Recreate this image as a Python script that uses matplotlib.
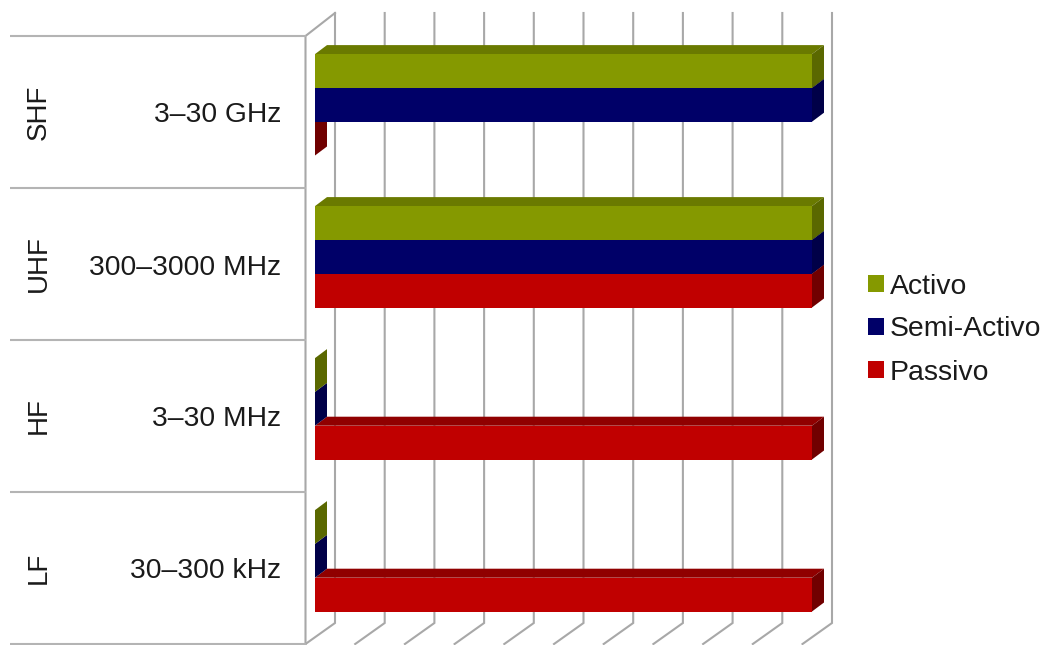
import matplotlib.pyplot as plt
from matplotlib.patches import Patch

plt.rcParams['font.family'] = ['Liberation Sans', 'DejaVu Sans']

# bottom to top, same as the y axis
bands = ['LF', 'HF', 'UHF', 'SHF']
ranges = ['30–300 kHz', '3–30 MHz', '300–3000 MHz', '3–30 GHz']
series_names = ['Activo', 'Semi-Activo', 'Passivo']
activo = [0, 0, 100, 100]
semi_activo = [0, 0, 100, 100]
passivo = [100, 100, 100, 0]
grid_values = [0, 10, 20, 30, 40, 50, 60, 70, 80, 90, 100]

W, H = 1047, 645
fig = plt.figure(figsize=(W / 100, H / 100), dpi=100)
# front plane of the fake 3d box
left, right, top, bottom = 305.5, 802.5, 36, 644
ax = fig.add_axes([left / W, 1 - bottom / H, (right - left) / W, (bottom - top) / H])
ax.set_xlim(0, 100)
ax.set_ylim(0, 4)
ax.axis('off')

# pixels to data units
px = 100 / (right - left)
py = 4 / (bottom - top)

# back wall offset, bar offset from the front plane, bar depth
back_x, back_y, floor_y = 29.5 * px, 23 * py, 21 * py
shift_x, shift_y = 9.5 * px, 7.2 * py
depth_x, depth_y = 12 * px, 9 * py
bar_h = 33.8 * py

line_c = '#a8a8a8'
lw = 1.5

# grid lines: floor diagonal + back wall vertical
for v in grid_values:
    ax.plot([v, v + back_x, v + back_x], [0, floor_y, 4 + back_y], color=line_c,
            lw=lw, clip_on=False, zorder=1, solid_joinstyle='miter')

# left wall
ax.plot([0, 0, back_x], [0, 4, 4 + back_y], color=line_c, lw=lw, clip_on=False, zorder=1)
x_far = (10 - left) * px
ax.hlines(range(5), x_far, 0, color='#b4b4b4', lw=lw, clip_on=False, zorder=1)

colors = {
    'Activo': ('#859900', '#6a7a00', '#5a6800'),
    'Semi-Activo': ('#000068', '#000058', '#000048'),
    'Passivo': ('#c00000', '#900000', '#700000'),
}
values = {'Activo': activo, 'Semi-Activo': semi_activo, 'Passivo': passivo}

# passivo first so the upper bars cover what is behind them
z = 2
for slot, name in reversed(list(enumerate(series_names))):
    front, top_c, side_c = colors[name]
    for i, val in enumerate(values[name]):
        y1 = i + 0.5 + shift_y + 1.5 * bar_h - slot * bar_h
        y0 = y1 - bar_h
        x1 = val + shift_x
        x0 = shift_x
        # top face
        ax.fill([x0, x0 + depth_x, x1 + depth_x, x1], [y1, y1 + depth_y, y1 + depth_y, y1],
                color=top_c, lw=0, clip_on=False, zorder=z)
        # side face
        ax.fill([x1, x1 + depth_x, x1 + depth_x, x1], [y0, y0 + depth_y, y1 + depth_y, y1],
                color=side_c, lw=0, clip_on=False, zorder=z)
        # front face
        ax.barh(y0, val, height=bar_h, left=x0, align='edge', color=front, lw=0,
                clip_on=False, zorder=z)
    z += 1

# category labels
for i in range(len(bands)):
    ax.text((38.5 - left) * px, i + 0.5, bands[i], rotation=90, ha='center', va='center',
            fontsize=20, color='#1a1a1a', clip_on=False)
    ax.text((281.5 - left) * px, i + 0.5 - 3.5 * py, ranges[i], ha='right', va='center',
            fontsize=20.3, color='#1a1a1a', clip_on=False)

handles = [Patch(facecolor=colors[n][0], edgecolor='none', label=n) for n in series_names]
fig.legend(handles=handles, loc='center left', bbox_to_anchor=(859.5 / W, 1 - 329.5 / H),
           frameon=False, fontsize=20.4, handlelength=0.58, handleheight=0.58,
           handletextpad=0.2, labelspacing=0.6, borderpad=0, borderaxespad=0.3,
           labelcolor='#1a1a1a')

fig.savefig('out.png', dpi=100)
